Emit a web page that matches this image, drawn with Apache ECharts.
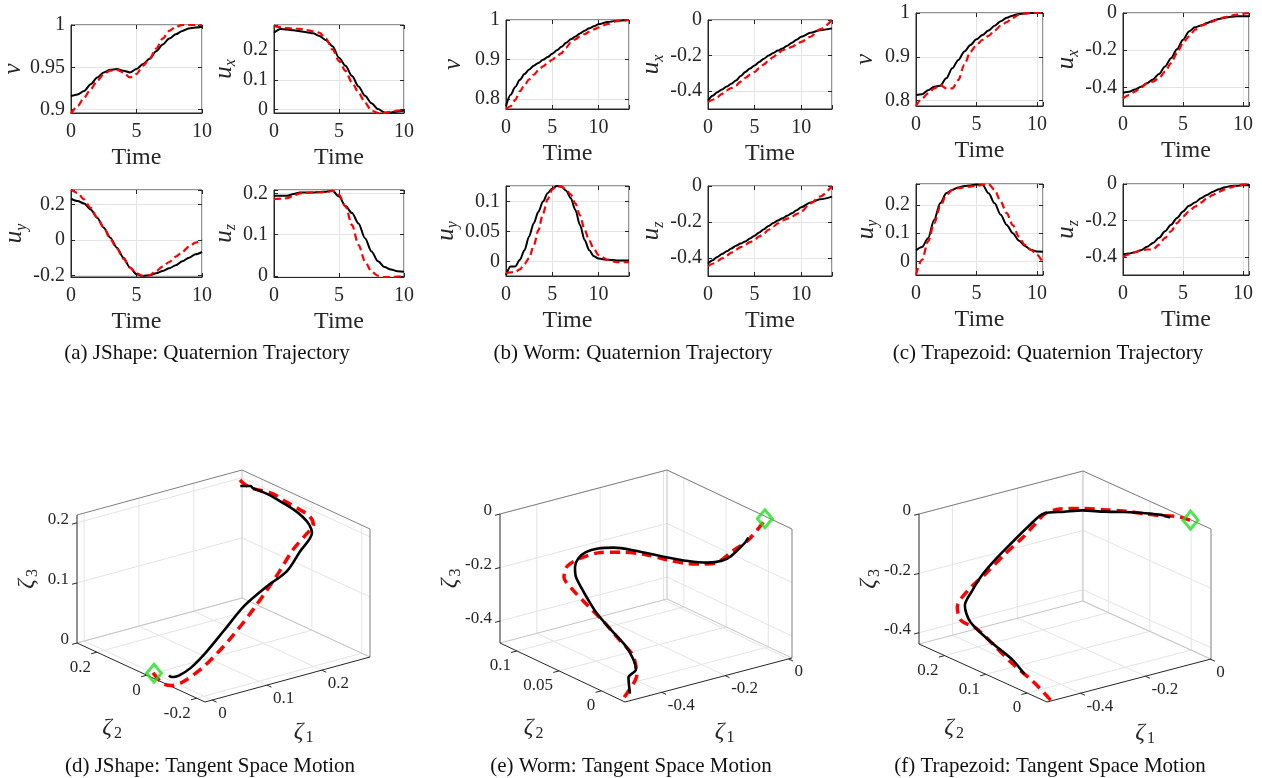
<!DOCTYPE html>
<html>
<head>
<meta charset="utf-8">
<title>Quaternion trajectories and tangent space motion</title>
<script src="https://cdn.jsdelivr.net/npm/echarts@6.0.0/dist/echarts.min.js"></script>
<style>
    html, body { margin: 0; padding: 0; background: #fff; }
    #chart { width: 1262px; height: 778px; }
</style>
</head>
<body>
<div id="chart"></div>
<script type="text/javascript">

    var SERIF = '"Liberation Serif", "Times New Roman", serif';
    var INK = '#262626';
    var GRIDC = '#e4e4e4';

    // ---------------- time stamps ----------------
    var tA = [0,0.5,1,1.5,2,2.5,3,3.5,4,4.5,5,5.5,6,6.5,7,7.5,8,8.5,9,9.5,10];
    var tB = [0,0.5,1,1.5,2,2.5,3,3.5,4,4.5,5,5.5,6,6.5,7,7.5,8,8.5,9,9.5,10,11,12,13.3];
    var tC = [0,0.5,1,1.5,2,2.5,3,3.5,4,4.5,5,5.5,6,6.5,7,7.5,8,8.5,9,9.5,10,10.5];
    var TIME_TICKS = [0, 5, 10];

    // ---------------- (a) JShape ----------------
    var jshape_v_black  = [0.916,0.918,0.922,0.930,0.938,0.944,0.947,0.948,0.946,0.944,0.948,0.954,0.960,0.969,0.977,0.984,0.989,0.993,0.996,0.997,0.998];
    var jshape_v_red    = [0.895,0.904,0.914,0.924,0.934,0.942,0.946,0.947,0.944,0.938,0.942,0.952,0.960,0.972,0.984,0.993,0.998,1.000,1.000,1.000,1.000];
    var jshape_ux_black = [0.258,0.271,0.269,0.266,0.263,0.260,0.256,0.247,0.233,0.213,0.174,0.147,0.113,0.078,0.047,0.022,0.002,-0.009,-0.009,-0.006,-0.003];
    var jshape_ux_red   = [0.280,0.277,0.274,0.272,0.271,0.267,0.263,0.258,0.238,0.202,0.163,0.130,0.091,0.058,0.024,-0.003,-0.011,-0.011,-0.007,-0.003,0.000];
    var jshape_uy_black = [0.231,0.218,0.205,0.171,0.125,0.069,0.013,-0.043,-0.099,-0.154,-0.192,-0.201,-0.197,-0.186,-0.173,-0.158,-0.141,-0.119,-0.099,-0.080,-0.067];
    var jshape_uy_red   = [0.283,0.264,0.227,0.180,0.125,0.069,0.007,-0.048,-0.104,-0.154,-0.186,-0.201,-0.197,-0.173,-0.149,-0.123,-0.093,-0.067,-0.037,-0.015,0.004];
    var jshape_uz_black = [0.194,0.194,0.194,0.198,0.202,0.202,0.202,0.203,0.204,0.206,0.192,0.169,0.152,0.127,0.091,0.059,0.035,0.021,0.015,0.011,0.010];
    var jshape_uz_red   = [0.186,0.187,0.188,0.194,0.200,0.201,0.202,0.202,0.203,0.206,0.196,0.168,0.123,0.075,0.035,0.010,0.000,-0.003,-0.003,-0.002,0.000];

    // ---------------- (b) Worm ----------------
    var worm_v_black  = [0.781,0.810,0.830,0.848,0.863,0.874,0.884,0.891,0.899,0.906,0.914,0.923,0.932,0.942,0.951,0.958,0.966,0.973,0.979,0.984,0.989,0.995,0.998,1.000];
    var worm_v_red    = [0.774,0.781,0.797,0.819,0.835,0.849,0.861,0.872,0.882,0.891,0.899,0.908,0.916,0.930,0.943,0.951,0.958,0.964,0.970,0.976,0.981,0.990,0.997,1.000];
    var worm_ux_black = [-0.453,-0.425,-0.406,-0.390,-0.374,-0.358,-0.340,-0.315,-0.292,-0.273,-0.255,-0.236,-0.217,-0.200,-0.185,-0.172,-0.160,-0.144,-0.128,-0.111,-0.094,-0.072,-0.057,-0.047];
    var worm_ux_red   = [-0.462,-0.448,-0.434,-0.415,-0.396,-0.382,-0.368,-0.346,-0.325,-0.308,-0.292,-0.270,-0.249,-0.228,-0.208,-0.189,-0.170,-0.160,-0.151,-0.137,-0.123,-0.094,-0.053,0.000];
    var worm_uy_black = [-0.022,-0.008,-0.008,0.003,0.019,0.042,0.064,0.083,0.100,0.114,0.122,0.126,0.125,0.118,0.106,0.086,0.061,0.036,0.019,0.009,0.005,0.003,0.002,0.002];
    var worm_uy_red   = [-0.019,-0.018,-0.017,-0.013,-0.004,0.006,0.027,0.052,0.080,0.104,0.120,0.126,0.125,0.120,0.112,0.097,0.077,0.053,0.035,0.021,0.011,0.003,-0.001,-0.001];
    var worm_uz_black = [-0.431,-0.412,-0.394,-0.378,-0.363,-0.347,-0.332,-0.320,-0.308,-0.292,-0.276,-0.258,-0.240,-0.222,-0.206,-0.192,-0.179,-0.165,-0.151,-0.135,-0.118,-0.092,-0.074,-0.059];
    var worm_uz_red   = [-0.446,-0.432,-0.418,-0.402,-0.387,-0.370,-0.354,-0.340,-0.326,-0.312,-0.299,-0.280,-0.262,-0.243,-0.225,-0.208,-0.192,-0.181,-0.170,-0.156,-0.142,-0.096,-0.059,0.000];

    // ---------------- (c) Trapezoid ----------------
    var trap_v_black  = [0.813,0.815,0.824,0.832,0.834,0.851,0.874,0.893,0.912,0.927,0.940,0.950,0.960,0.971,0.981,0.989,0.994,0.998,0.999,1.000,1.000,1.000];
    var trap_v_red    = [0.788,0.805,0.817,0.828,0.836,0.828,0.828,0.847,0.882,0.912,0.927,0.939,0.948,0.960,0.971,0.979,0.989,0.996,0.999,1.000,1.000,1.000];
    var trap_ux_black = [-0.429,-0.423,-0.411,-0.396,-0.378,-0.357,-0.328,-0.288,-0.243,-0.195,-0.144,-0.099,-0.077,-0.067,-0.054,-0.041,-0.032,-0.025,-0.020,-0.018,-0.018,-0.018];
    var trap_ux_red   = [-0.459,-0.441,-0.423,-0.400,-0.378,-0.369,-0.351,-0.315,-0.270,-0.216,-0.162,-0.126,-0.090,-0.068,-0.058,-0.045,-0.032,-0.022,-0.014,-0.009,-0.004,0.000];
    var trap_uy_black = [0.039,0.051,0.082,0.147,0.206,0.241,0.253,0.262,0.267,0.269,0.272,0.271,0.241,0.206,0.165,0.129,0.100,0.074,0.055,0.041,0.035,0.034];
    var trap_uy_red   = [-0.047,0.006,0.071,0.135,0.194,0.235,0.253,0.259,0.262,0.265,0.267,0.271,0.274,0.253,0.212,0.171,0.129,0.088,0.059,0.041,0.024,-0.006];
    var trap_uz_black = [-0.387,-0.382,-0.375,-0.364,-0.345,-0.324,-0.296,-0.260,-0.224,-0.187,-0.151,-0.120,-0.102,-0.078,-0.060,-0.042,-0.029,-0.018,-0.011,-0.009,-0.007,-0.007];
    var trap_uz_red   = [-0.400,-0.387,-0.375,-0.364,-0.360,-0.360,-0.333,-0.296,-0.260,-0.215,-0.178,-0.151,-0.124,-0.102,-0.078,-0.060,-0.042,-0.029,-0.018,-0.009,-0.003,0.000];

    // goal marker (tangent space origin)
    var GOAL = [0, 0, 0];

    // ---------------- tick labels ----------------
    var jshape_v_ticks  = [0.9, 0.95, 1];
    var jshape_ux_ticks = [0, 0.1, 0.2];
    var jshape_uy_ticks = [-0.2, 0, 0.2];
    var jshape_uz_ticks = [0, 0.1, 0.2];
    var worm_v_ticks    = [0.8, 0.9, 1];
    var worm_ux_ticks   = [-0.4, -0.2, 0];
    var worm_uy_ticks   = [0, 0.05, 0.1];
    var worm_uz_ticks   = [-0.4, -0.2, 0];
    var trap_v_ticks    = [0.8, 0.9, 1];
    var trap_ux_ticks   = [-0.4, -0.2, 0];
    var trap_uy_ticks   = [0, 0.1, 0.2];
    var trap_uz_ticks   = [-0.4, -0.2, 0];

    var jshape_z1_ticks = [0, 0.1, 0.2];
    var jshape_z2_ticks = [-0.2, 0, 0.2];
    var jshape_z3_ticks = [0, 0.1, 0.2];
    var worm_z1_ticks   = [-0.4, -0.2, 0];
    var worm_z2_ticks   = [0, 0.05, 0.1];
    var worm_z3_ticks   = [-0.4, -0.2, 0];
    var trap_z1_ticks   = [-0.4, -0.2, 0];
    var trap_z2_ticks   = [0, 0.1, 0.2];
    var trap_z3_ticks   = [-0.4, -0.2, 0];

    // ---------------- 2D panels: box = [left, top, width, height] ----------------
    var QUAT = [
        {t: tA, tMax: 10,   sub: '',  lim: [0.896, 1],      ticks: jshape_v_ticks,  box: [71, 25, 131, 88],   gap: 58, black: jshape_v_black,  red: jshape_v_red},
        {t: tA, tMax: 10,   sub: 'x', lim: [-0.011, 0.284], ticks: jshape_ux_ticks, box: [274, 25, 130, 88],  gap: 41, black: jshape_ux_black, red: jshape_ux_red},
        {t: tA, tMax: 10,   sub: 'y', lim: [-0.207, 0.28],  ticks: jshape_uy_ticks, box: [71, 190, 131, 87],  gap: 53, black: jshape_uy_black, red: jshape_uy_red},
        {t: tA, tMax: 10,   sub: 'z', lim: [-0.003, 0.208], ticks: jshape_uz_ticks, box: [274, 190, 130, 87], gap: 46, black: jshape_uz_black, red: jshape_uz_red},
        {t: tB, tMax: 13.3, sub: '',  lim: [0.774, 1],      ticks: worm_v_ticks,    box: [506, 20, 123, 89],  gap: 53, black: worm_v_black,    red: worm_v_red},
        {t: tB, tMax: 13.3, sub: 'x', lim: [-0.5, 0],       ticks: worm_ux_ticks,   box: [708, 20, 124, 89],  gap: 51, black: worm_ux_black,   red: worm_ux_red},
        {t: tB, tMax: 13.3, sub: 'y', lim: [-0.024, 0.126], ticks: worm_uy_ticks,   box: [506, 186, 123, 90], gap: 58, black: worm_uy_black,   red: worm_uy_red},
        {t: tB, tMax: 13.3, sub: 'z', lim: [-0.5, 0],       ticks: worm_uz_ticks,   box: [708, 186, 124, 90], gap: 55, black: worm_uz_black,   red: worm_uz_red},
        {t: tC, tMax: 10.5, sub: '',  lim: [0.788, 1],      ticks: trap_v_ticks,    box: [916, 13, 127, 93],  gap: 51, black: trap_v_black,    red: trap_v_red},
        {t: tC, tMax: 10.5, sub: 'x', lim: [-0.5, 0],       ticks: trap_ux_ticks,   box: [1123, 13, 126, 93], gap: 56, black: trap_ux_black,   red: trap_ux_red},
        {t: tC, tMax: 10.5, sub: 'y', lim: [-0.048, 0.274], ticks: trap_uy_ticks,   box: [916, 184, 127, 91], gap: 48, black: trap_uy_black,   red: trap_uy_red},
        {t: tC, tMax: 10.5, sub: 'z', lim: [-0.5, 0],       ticks: trap_uz_ticks,   box: [1123, 184, 126, 91],gap: 56, black: trap_uz_black,   red: trap_uz_red}
    ];

    // ---------------- 3D panels (orthographic box, screen vectors per axis) ----------------
    var TANGENT = [
        {box: {front: [205, 702], e1: [165, -45], e2: [-128, -59], e3: [0, -128]},
         lim: {z1: [-0.013, 0.288], z2: [-0.233, 0.28], z3: [0, 0.213]},
         ticks: [jshape_z1_ticks, jshape_z2_ticks, jshape_z3_ticks],
         black: [jshape_v_black, jshape_ux_black, jshape_uy_black, jshape_uz_black],
         red:   [jshape_v_red, jshape_ux_red, jshape_uy_red, jshape_uz_red]},
        {box: {front: [625, 702], e1: [167, -44], e2: [-125, -59], e3: [0, -129]},
         lim: {z1: [-0.516, 0.011], z2: [-0.028, 0.12], z3: [-0.482, 0]},
         ticks: [worm_z1_ticks, worm_z2_ticks, worm_z3_ticks],
         black: [worm_v_black, worm_ux_black, worm_uy_black, worm_uz_black],
         red:   [worm_v_red, worm_ux_red, worm_uy_red, worm_uz_red]},
        {box: {front: [1047, 702], e1: [164, -43], e2: [-128, -58], e3: [0, -130]},
         lim: {z1: [-0.503, 0.002], z2: [-0.048, 0.262], z3: [-0.438, 0]},
         ticks: [trap_z1_ticks, trap_z2_ticks, trap_z3_ticks],
         black: [trap_v_black, trap_ux_black, trap_uy_black, trap_uz_black],
         red:   [trap_v_red, trap_ux_red, trap_uy_red, trap_uz_red]}
    ];

    var CAPTIONS = [
        {text: '(a) JShape: Quaternion Trajectory', x: 207, y: 353},
        {text: '(b) Worm: Quaternion Trajectory', x: 633, y: 353},
        {text: '(c) Trapezoid: Quaternion Trajectory', x: 1048, y: 353},
        {text: '(d) JShape: Tangent Space Motion', x: 210, y: 766},
        {text: '(e) Worm: Tangent Space Motion', x: 631, y: 766},
        {text: '(f) Trapezoid: Tangent Space Motion', x: 1050, y: 766}
    ];

    // ---------------- helpers ----------------
    function tickFormatter(ticks) {
        return function (val) {
            for (var i = 0; i < ticks.length; i++) {
                if (Math.abs(val - ticks[i]) < 1e-7) return String(ticks[i]);
            }
            return '';
        };
    }
    function stepOf(ticks) { return +(ticks[1] - ticks[0]).toFixed(6); }
    function zip(xs, ys) { return xs.map(function (x, i) { return [x, ys[i]]; }); }

    // quaternion (v, u) -> tangent space vector zeta = log(q)
    function logMap(v, x, y, z) {
        var n = Math.sqrt(x * x + y * y + z * z);
        if (n < 1e-9) return [0, 0, 0];
        var s = Math.atan2(n, v) / n;
        return [x * s, y * s, z * s];
    }
    function projN(B, a, b, c) {
        return [a * B.e1[0] + b * B.e2[0] + c * B.e3[0], -(a * B.e1[1] + b * B.e2[1] + c * B.e3[1])];
    }
    function norm(r, val) { return (val - r[0]) / (r[1] - r[0]); }
    function project(p, z) {
        return projN(p.box, norm(p.lim.z1, z[0]), norm(p.lim.z2, z[1]), norm(p.lim.z3, z[2]));
    }
    function trajectory(p, q) {
        return q[0].map(function (v, i) {
            return project(p, logMap(v, q[1][i], q[2][i], q[3][i]));
        });
    }

    var grids = [], xAxes = [], yAxes = [], series = [];

    var nameRich = {
        i: {fontFamily: SERIF, fontStyle: 'italic', fontSize: 25, color: INK, lineHeight: 30},
        s: {fontFamily: SERIF, fontStyle: 'italic', fontSize: 16, color: INK, lineHeight: 16, verticalAlign: 'bottom'}
    };

    var nAx = 0;
    QUAT.forEach(function (p, i) {
        grids.push({
            left: p.box[0], top: p.box[1], width: p.box[2], height: p.box[3],
            show: true, borderColor: INK, borderWidth: 1, backgroundColor: 'transparent',
            containLabel: false, outerBoundsMode: 'none'
        });
        var xi = xAxes.length, yi = yAxes.length;
        xAxes.push({
            type: 'value', gridIndex: i, min: 0, max: p.tMax, position: 'bottom',
            minInterval: stepOf(TIME_TICKS), maxInterval: stepOf(TIME_TICKS),
            axisLine: {show: true, onZero: false, lineStyle: {color: INK, width: 1}},
            axisTick: {show: true, inside: true, length: 4, lineStyle: {color: INK}},
            axisLabel: {formatter: tickFormatter(TIME_TICKS), margin: 9, fontFamily: SERIF, fontSize: 20, color: INK},
            splitLine: {show: true, lineStyle: {color: GRIDC, width: 1}},
            name: 'Time', nameLocation: 'middle', nameGap: 33,
            nameTextStyle: {fontFamily: SERIF, fontSize: 24, color: INK, lineHeight: 24}
        });
        // mirrored ticks on the top edge (box on)
        xAxes.push({
            type: 'value', gridIndex: i, min: 0, max: p.tMax, position: 'top',
            minInterval: stepOf(TIME_TICKS), maxInterval: stepOf(TIME_TICKS),
            axisLine: {show: false, onZero: false},
            axisTick: {show: true, inside: true, length: 4, lineStyle: {color: INK}},
            axisLabel: {show: false}, splitLine: {show: false}
        });
        yAxes.push({
            type: 'value', gridIndex: i, min: p.lim[0], max: p.lim[1], position: 'left',
            minInterval: stepOf(p.ticks), maxInterval: stepOf(p.ticks),
            axisLine: {show: true, onZero: false, lineStyle: {color: INK, width: 1}},
            axisTick: {show: true, inside: true, length: 4, lineStyle: {color: INK}},
            axisLabel: {formatter: tickFormatter(p.ticks), margin: 6, fontFamily: SERIF, fontSize: 20, color: INK},
            splitLine: {show: true, lineStyle: {color: GRIDC, width: 1}},
            name: p.sub ? '{i|u}{s|' + p.sub + '}' : '{i|v}',
            nameLocation: 'middle', nameGap: p.gap - 15,
            nameTextStyle: {rich: nameRich}
        });
        // mirrored ticks on the right edge
        yAxes.push({
            type: 'value', gridIndex: i, min: p.lim[0], max: p.lim[1], position: 'right',
            minInterval: stepOf(p.ticks), maxInterval: stepOf(p.ticks),
            axisLine: {show: false, onZero: false},
            axisTick: {show: true, inside: true, length: 4, lineStyle: {color: INK}},
            axisLabel: {show: false}, splitLine: {show: false}
        });
        series.push({
            type: 'line', xAxisIndex: xi, yAxisIndex: yi, data: zip(p.t, p.black),
            showSymbol: false, smooth: 0.3, smoothMonotone: 'x', silent: true, z: 3,
            lineStyle: {color: '#000000', width: 2}
        });
        series.push({
            type: 'line', xAxisIndex: xi, yAxisIndex: yi, data: zip(p.t, p.red),
            showSymbol: false, smooth: 0.3, smoothMonotone: 'x', silent: true, z: 4,
            lineStyle: {color: '#ff0000', width: 2.2, type: [7, 4]}
        });
    });

    function seg(api, P, Q, color, w) {
        var a = api.coord(P), b = api.coord(Q);
        return {type: 'line', shape: {x1: a[0], y1: a[1], x2: b[0], y2: b[1]}, style: {stroke: color, lineWidth: w}};
    }
    function label(pt, dx, dy, text, align) {
        return {type: 'text', x: pt[0] + dx, y: pt[1] + dy,
            style: {text: text, fill: INK, font: '17px ' + SERIF, align: align, verticalAlign: 'middle',
                    textAlign: align, textVerticalAlign: 'middle'}};
    }
    function zetaName(pt, dx, dy, idx, rot) {
        return {type: 'group', x: pt[0] + dx, y: pt[1] + dy, rotation: rot || 0, children: [
            {type: 'text', x: -5, y: 0, style: {text: '\u03b6', fill: INK, font: 'italic 24px ' + SERIF,
                align: 'center', verticalAlign: 'middle', textAlign: 'center', textVerticalAlign: 'middle'}},
            {type: 'text', x: 2, y: 6, style: {text: String(idx), fill: INK, font: '16px ' + SERIF,
                align: 'left', verticalAlign: 'middle', textAlign: 'left', textVerticalAlign: 'middle'}}
        ]};
    }

    function boxRenderer(p) {
        return function (params, api) {
            var B = p.box;
            var P = function (a, b, c) { return projN(B, a, b, c); };
            var C = function (a, b, c) { return api.coord(projN(B, a, b, c)); };
            var ch = [];
            var t1 = p.ticks[0].map(function (v) { return norm(p.lim.z1, v); });
            var t2 = p.ticks[1].map(function (v) { return norm(p.lim.z2, v); });
            var t3 = p.ticks[2].map(function (v) { return norm(p.lim.z3, v); });
            // grid lines on back walls and floor
            t1.forEach(function (a) {
                ch.push(seg(api, P(a, 1, 0), P(a, 1, 1), GRIDC, 1));
                ch.push(seg(api, P(a, 0, 0), P(a, 1, 0), GRIDC, 1));
            });
            t2.forEach(function (b) {
                ch.push(seg(api, P(1, b, 0), P(1, b, 1), GRIDC, 1));
                ch.push(seg(api, P(0, b, 0), P(1, b, 0), GRIDC, 1));
            });
            t3.forEach(function (c) {
                ch.push(seg(api, P(0, 1, c), P(1, 1, c), GRIDC, 1));
                ch.push(seg(api, P(1, 1, c), P(1, 0, c), GRIDC, 1));
            });
            // inner box edges
            ch.push(seg(api, P(1, 1, 0), P(1, 1, 1), '#c4c4c4', 1));
            ch.push(seg(api, P(0, 1, 0), P(1, 1, 0), '#c4c4c4', 1));
            ch.push(seg(api, P(1, 1, 0), P(1, 0, 0), '#c4c4c4', 1));
            // outer box edges
            ch.push(seg(api, P(0, 1, 1), P(1, 1, 1), '#808080', 1));
            ch.push(seg(api, P(1, 1, 1), P(1, 0, 1), '#808080', 1));
            ch.push(seg(api, P(1, 0, 0), P(1, 0, 1), '#808080', 1));
            // axis lines
            ch.push(seg(api, P(0, 0, 0), P(1, 0, 0), INK, 1));
            ch.push(seg(api, P(0, 0, 0), P(0, 1, 0), INK, 1));
            ch.push(seg(api, P(0, 1, 0), P(0, 1, 1), INK, 1));
            // ticks + labels
            t1.forEach(function (a, k) {
                ch.push(seg(api, P(a, 0, 0), P(a, -0.035, 0), INK, 1));
                ch.push(label(C(a, 0, 0), 6, 13, String(p.ticks[0][k]), 'left'));
            });
            t2.forEach(function (b, k) {
                ch.push(seg(api, P(0, b, 0), P(-0.035, b, 0), INK, 1));
                ch.push(label(C(0, b, 0), -6, 15, String(p.ticks[1][k]), 'right'));
            });
            t3.forEach(function (c, k) {
                ch.push(seg(api, P(0, 1, c), P(-0.03, 1, c), INK, 1));
                ch.push(label(C(0, 1, c), -8, -3, String(p.ticks[2][k]), 'right'));
            });
            ch.push(zetaName(C(0.5, 0, 0), 16, 52, 1));
            ch.push(zetaName(C(0, 0.5, 0), -29, 55, 2));
            ch.push(zetaName(C(0, 1, 0.5), -50, 0, 3, Math.PI / 2));
            return {type: 'group', children: ch};
        };
    }

    TANGENT.forEach(function (p, j) {
        var gi = QUAT.length + j;
        var B = p.box;
        var h = -(B.e1[1] + B.e2[1] + B.e3[1]);
        var xi = xAxes.length, yi = yAxes.length;
        grids.push({left: B.front[0] + B.e2[0], top: B.front[1] - h, width: B.e1[0] - B.e2[0], height: h,
                    show: false, containLabel: false, outerBoundsMode: 'none'});
        xAxes.push({type: 'value', gridIndex: gi, min: B.e2[0], max: B.e1[0], show: false});
        yAxes.push({type: 'value', gridIndex: gi, min: 0, max: h, show: false});
        series.push({type: 'custom', coordinateSystem: 'cartesian2d', xAxisIndex: xi, yAxisIndex: yi,
                     data: [[0, 0]], renderItem: boxRenderer(p), silent: true, z: 1, clip: false});
        series.push({type: 'line', xAxisIndex: xi, yAxisIndex: yi, data: trajectory(p, p.red),
                     showSymbol: false, smooth: 0.3, silent: true, clip: false, z: 3,
                     lineStyle: {color: '#ff0000', width: 3.5, type: [10, 6]}});
        series.push({type: 'line', xAxisIndex: xi, yAxisIndex: yi, data: trajectory(p, p.black),
                     showSymbol: false, smooth: 0.3, silent: true, clip: false, z: 4,
                     lineStyle: {color: '#000000', width: 2.6}});
        series.push({type: 'scatter', xAxisIndex: xi, yAxisIndex: yi, data: [project(p, GOAL)],
                     symbol: 'diamond', symbolSize: [15, 18], silent: true, clip: false, z: 6,
                     itemStyle: {color: 'rgba(0,0,0,0)', borderColor: '#22e022', borderWidth: 3}});
    });

    var chart = echarts.init(document.getElementById('chart'));
    chart.setOption({
        animation: false,
        backgroundColor: '#ffffff',
        grid: grids,
        xAxis: xAxes,
        yAxis: yAxes,
        series: series,
        graphic: CAPTIONS.map(function (c) {
            return {type: 'text', x: c.x, y: c.y, silent: true,
                style: {text: c.text, fill: '#111111', font: '21px ' + SERIF,
                        align: 'center', verticalAlign: 'middle', textAlign: 'center', textVerticalAlign: 'middle'}};
        })
    });
</script>
</body>
</html>
